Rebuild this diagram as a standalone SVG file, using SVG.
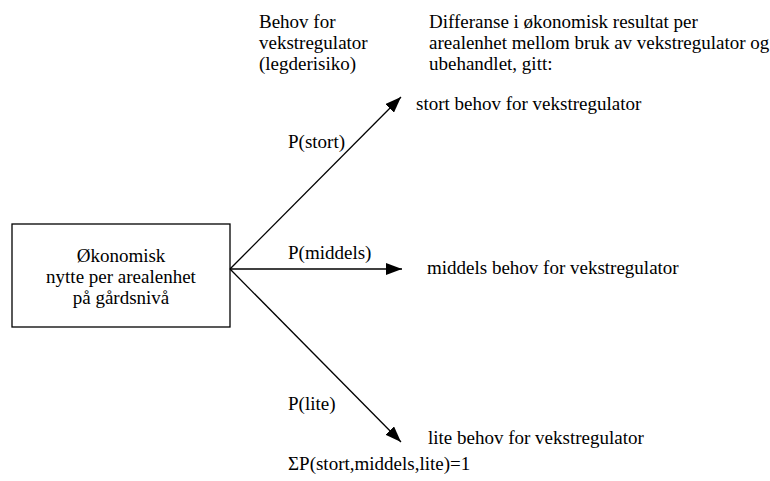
<svg xmlns="http://www.w3.org/2000/svg" width="770" height="481" viewBox="0 0 770 481">
<style>
text{font-family:"Liberation Serif","Times New Roman",serif;font-size:19px;fill:#000}
.c{text-anchor:middle}
.ln{stroke:#000;stroke-width:1.3;fill:none}
</style>
<defs>
<marker id="ah" viewBox="0 0 16 12" refX="16" refY="6" markerWidth="16" markerHeight="12" markerUnits="userSpaceOnUse" orient="auto">
<path d="M0,0 L16,6 L0,12 z" fill="#000"/>
</marker>
</defs>
<g id="node-root">
<rect x="12" y="224" width="218" height="103" fill="#fff" stroke="#000" stroke-width="1.3"/>
<text class="c" x="121" y="262">Økonomisk</text>
<text class="c" x="121" y="283">nytte per arealenhet</text>
<text class="c" x="121" y="304">på gårdsnivå</text>
</g>
<g id="connectors">
<line class="ln" x1="230" y1="269" x2="401" y2="97" marker-end="url(#ah)"/>
<line class="ln" x1="230" y1="269" x2="402" y2="269" marker-end="url(#ah)"/>
<line class="ln" x1="230" y1="269" x2="401" y2="442" marker-end="url(#ah)"/>
</g>
<g id="labels">
<text x="259" y="28">Behov for</text>
<text x="259" y="49">vekstregulator</text>
<text x="259" y="70">(legderisiko)</text>
<text x="429" y="28">Differanse i økonomisk resultat per</text>
<text x="429" y="49">arealenhet mellom bruk av vekstregulator og</text>
<text x="429" y="70">ubehandlet, gitt:</text>
<text x="288" y="148">P(stort)</text>
<text x="288" y="259">P(middels)</text>
<text x="288" y="410">P(lite)</text>
<text x="288" y="470">ΣP(stort,middels,lite)=1</text>
</g>
<g id="node-stort"><text x="416" y="110">stort behov for vekstregulator</text></g>
<g id="node-middels"><text x="427" y="274">middels behov for vekstregulator</text></g>
<g id="node-lite"><text x="428" y="444">lite behov for vekstregulator</text></g>
</svg>
